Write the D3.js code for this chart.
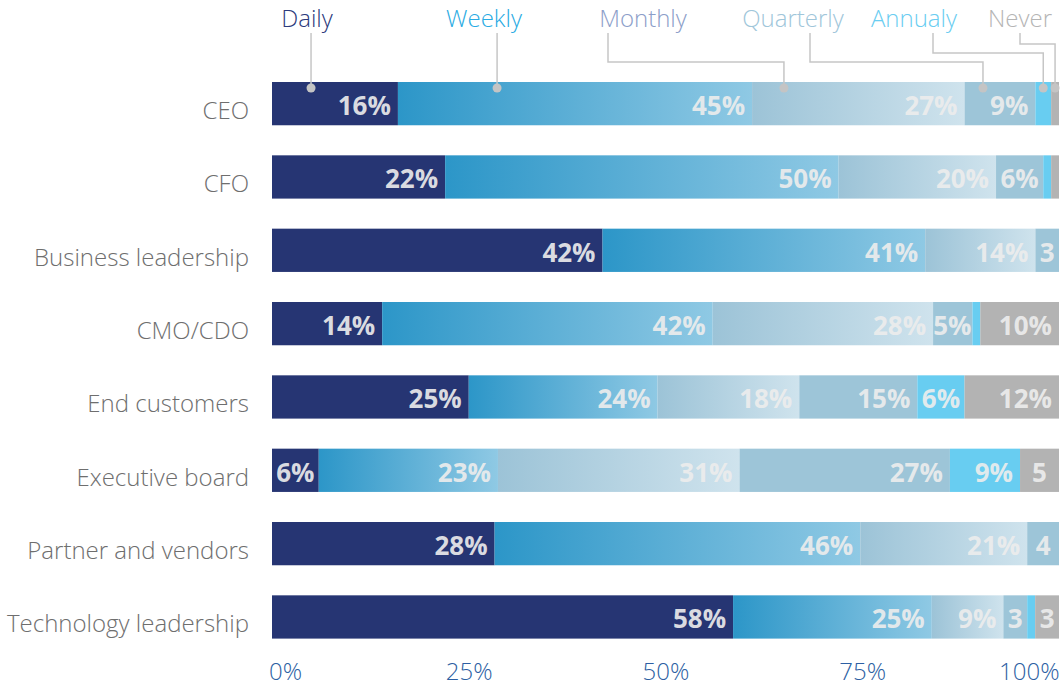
<!DOCTYPE html>
<html>
<head>
<meta charset="utf-8">
<script src="https://cdn.jsdelivr.net/npm/d3@7"></script>
<style>
  html, body { margin: 0; padding: 0; background: #ffffff; }
  svg { display: block; font-family: "Open Sans", "Noto Sans", sans-serif; }
</style>
</head>
<body>
<svg id="chart" width="1060" height="688"></svg>
<script>
// Frequency of interaction, share of respondents per stakeholder group
const categories = ["CEO", "CFO", "Business leadership", "CMO/CDO", "End customers",
                    "Executive board", "Partner and vendors", "Technology leadership"];
const series = ["Daily", "Weekly", "Monthly", "Quarterly", "Annualy", "Never"];
const daily     = [16, 22, 42, 14, 25,  6, 28, 58];
const weekly    = [45, 50, 41, 42, 24, 23, 46, 25];
const monthly   = [27, 20, 14, 28, 18, 31, 21,  9];
const quarterly = [ 9,  6,  3,  5, 15, 27,  4,  3];
const annualy   = [ 2,  1,  0,  1,  6,  9,  0,  1];
const never     = [ 1,  1,  0, 10, 12,  5,  0,  3];
const tickValues = [0, 0.25, 0.5, 0.75, 1];

const columns = [daily, weekly, monthly, quarterly, annualy, never];
const table = categories.map((c, i) => {
  const row = { category: c };
  series.forEach((s, j) => { row[s] = columns[j][i]; });
  return row;
});

const svg = d3.select("#chart");

// Segment fills: flat colours plus two horizontal gradients
const defs = svg.append("defs");
function gradient(id, from, to) {
  const g = defs.append("linearGradient").attr("id", id)
    .attr("x1", "0%").attr("x2", "100%").attr("y1", "0%").attr("y2", "0%");
  g.append("stop").attr("offset", "0%").attr("stop-color", from);
  g.append("stop").attr("offset", "100%").attr("stop-color", to);
}
gradient("g-weekly", "#2c96c8", "#8fc9e4");
gradient("g-monthly", "#9cc3d7", "#cfe3ed");

const fills = {
  Daily: "#263573",
  Weekly: "url(#g-weekly)",
  Monthly: "url(#g-monthly)",
  Quarterly: "#9dc5d8",
  Annualy: "#68cdf1",
  Never: "#b3b3b3"
};
const legendColors = {
  Daily: "#2b3a7c",
  Weekly: "#2aabe3",
  Monthly: "#8c9ec9",
  Quarterly: "#a0c6da",
  Annualy: "#6acdf1",
  Never: "#b5b5b5"
};

const x = d3.scaleLinear().domain([0, 1]).range([272, 1059]);
const y = d3.scaleBand().domain(categories).range([82, 638.6]).paddingInner(0.41).paddingOuter(0);

const stacked = d3.stack().keys(series).offset(d3.stackOffsetExpand)(table);

// Bars
const layers = svg.append("g").selectAll("g")
  .data(stacked).join("g")
  .attr("fill", d => fills[d.key]);

layers.selectAll("rect")
  .data(d => d.map(p => ({ key: d.key, p })))
  .join("rect")
  .attr("x", d => x(d.p[0]))
  .attr("y", d => y(d.p.data.category))
  .attr("width", d => Math.max(0, x(d.p[1]) - x(d.p[0])))
  .attr("height", y.bandwidth());

// Value labels inside segments
const labelGroup = svg.append("g")
  .attr("font-size", 26).attr("font-weight", 700)
  .attr("fill", "#ededed").attr("fill-opacity", 0.92);

stacked.forEach((layer, li) => {
  layer.forEach(p => {
    const value = p.data[layer.key];
    const x0 = x(p[0]), x1 = x(p[1]);
    const w = x1 - x0;
    if (value <= 0 || w < 20) return;
    const isLast = li === series.length - 1 || stacked.slice(li + 1).every(l => {
      const q = l.find(r => r.data.category === p.data.category);
      return q[1] - q[0] === 0;
    });
    const withPct = (w >= 36 && !isLast) || w >= 44;
    const t = labelGroup.append("text")
      .attr("y", y(p.data.category) + 33)
      .text(withPct ? value + "%" : value);
    const tw = t.node().getComputedTextLength();
    if (withPct) {
      const pad = Math.max(1, Math.min(7, (w - tw) / 2));
      t.attr("x", x1 - pad).attr("text-anchor", "end");
    } else {
      t.attr("x", (x0 + x1) / 2).attr("text-anchor", "middle");
    }
  });
});

// Category labels
svg.append("g")
  .attr("font-size", 24).attr("font-weight", 300).attr("fill", "#6e6e6e")
  .attr("text-anchor", "end")
  .selectAll("text").data(categories).join("text")
  .attr("x", 249)
  .attr("y", d => y(d) + 37)
  .text(d => d);

// Bottom axis
const axis = svg.append("g")
  .attr("transform", "translate(0,680)")
  .call(d3.axisBottom(x).tickValues(tickValues).tickFormat(d3.format(".0%")).tickSize(0));
axis.select(".domain").remove();
axis.selectAll("text")
  .attr("y", 0).attr("dy", 0)
  .attr("font-family", "\"Open Sans\", \"Noto Sans\", sans-serif")
  .attr("font-size", 24).attr("font-weight", 300)
  .attr("fill", "#2d5fa3")
  .attr("text-anchor", (d, i) => i === 0 ? "start" : (i === tickValues.length - 1 ? "end" : "middle"));
axis.selectAll(".tick").filter((d, i) => i === 0).attr("transform", `translate(${x(0) - 3},0)`);

// Legend with leader lines pointing into the first bar
const first = categories[0];
const dotFrac = [0.31, 0.28, 0.15, 0.26, 0.5, 0.5];
const legendX = [307, 484, 643, 793, 914, 1020];
const stemX   = [null, null, 608, 810, 933, 1020];
const elbowY  = [null, null, 62, 62, 53, 44];
const dotY = y(first) + 6;

const legend = svg.append("g");
series.forEach((s, i) => {
  const p = stacked[i].find(r => r.data.category === first);
  const dx = x(p[0]) + dotFrac[i] * (x(p[1]) - x(p[0]));
  const path = d3.path();
  if (stemX[i] === null) {
    path.moveTo(dx, 33);
    path.lineTo(dx, dotY);
  } else {
    path.moveTo(stemX[i], 33);
    path.lineTo(stemX[i], elbowY[i]);
    path.lineTo(dx, elbowY[i]);
    path.lineTo(dx, dotY);
  }
  legend.append("path").attr("d", path.toString())
    .attr("fill", "none").attr("stroke", "#c6c6c6").attr("stroke-width", 1.5);
  legend.append("circle").attr("cx", dx).attr("cy", dotY).attr("r", 4.5).attr("fill", "#c4c4c4");
  legend.append("text")
    .attr("x", legendX[i]).attr("y", 27)
    .attr("text-anchor", "middle")
    .attr("font-size", 24).attr("font-weight", 300)
    .attr("fill", legendColors[s])
    .text(s);
});
</script>
</body>
</html>
